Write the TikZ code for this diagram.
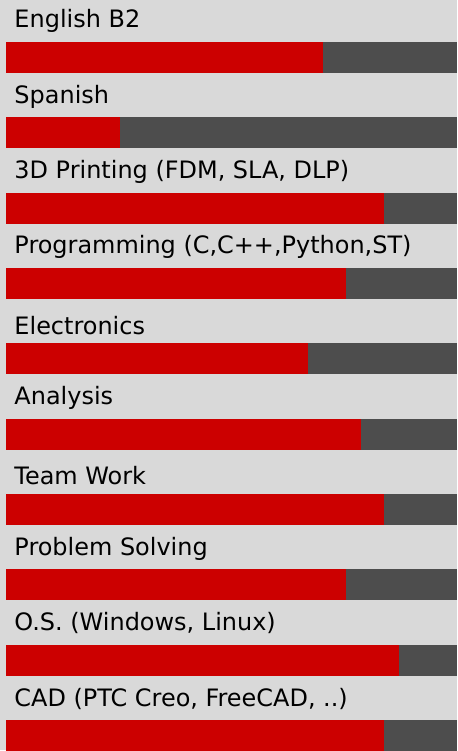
\documentclass[tikz,border=0pt]{standalone}
\usepackage{fontspec}
\setmainfont{DejaVu Sans}
\usepackage{tikz}

\definecolor{barred}{HTML}{CC0000}
\definecolor{bargray}{HTML}{4D4D4D}
\definecolor{panelgray}{HTML}{D9D9D9}

\begin{document}
\begin{tikzpicture}
  [x=1pt,y=-1pt,every node/.style={inner sep=0pt,anchor=base west,font=\fontsize{24}{28}\selectfont}]
  \fill[panelgray] (0,0) rectangle (458,751);

  % row / label / baseline / end of red part
  \foreach \i/\skill/\base/\level in {0/English B2/28/324,1/Spanish/103.5/120,
      2/{3D Printing (FDM, SLA, DLP)}/179/385,3/{Programming (C,C++,Python,ST)}/254.5/347,
      4/Electronics/335/309,5/Analysis/405.5/362,6/Team Work/485/385,
      7/Problem Solving/556.5/347,8/{O.S. (Windows, Linux)}/632/400,
      9/{CAD (PTC Creo, FreeCAD, ..)}/707.5/385}
  {
    \node (skill\i) at (14.3,\base) {\skill};
    \fill[bargray] (6,42+75.5*\i) rectangle (458,73+75.5*\i);
    \fill[barred] (6,42+75.5*\i) rectangle (\level,73+75.5*\i);
  }
\end{tikzpicture}
\end{document}
